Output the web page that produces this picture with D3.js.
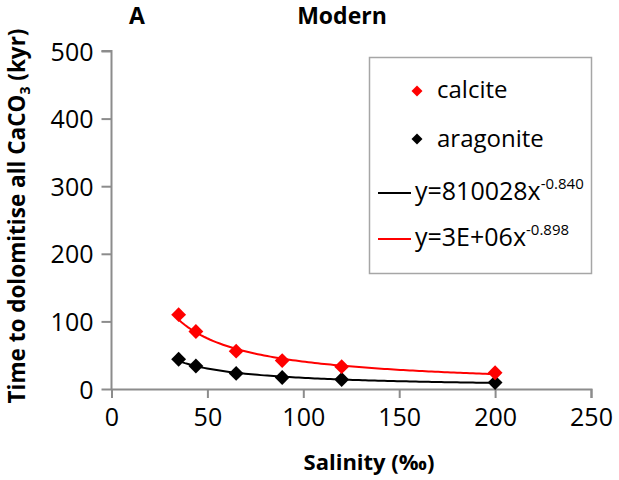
<!DOCTYPE html>
<html><head><meta charset="utf-8">
<script src="https://cdn.jsdelivr.net/npm/d3@7"></script>
<style>
body{margin:0;background:#fff;}
text{font-family:"Open Sans",sans-serif;}
</style></head>
<body><svg id="c" width="619" height="480"></svg>
<script>
const salinity = [35, 44, 65, 89, 120, 200];
const calcite = [110, 85, 56, 42, 33, 24];
const aragonite = [44, 34, 23, 17, 14, 9.5];
const xTicks = [0, 50, 100, 150, 200, 250];
const yTicks = [0, 100, 200, 300, 400, 500];
const seriesNames = ["calcite", "aragonite"];
const eqBlack = {base: "y=810028x", exp: "-0.840"};
const eqRed = {base: "y=3E+06x", exp: "-0.898"};

const svg = d3.select("#c");
const x = d3.scaleLinear().domain([0, 250]).range([111.5, 591]);
const y = d3.scaleLinear().domain([0, 500]).range([389, 51]);
const gray = "#8c8c8c";

// axes
const xAxis = svg.append("g").attr("transform", `translate(0,${y(0)})`)
  .call(d3.axisBottom(x).tickValues(xTicks).tickSize(9).tickPadding(8).tickFormat(d3.format("d")));
const yAxis = svg.append("g").attr("transform", `translate(${x(0)},0)`)
  .call(d3.axisLeft(y).tickValues(yTicks).tickSize(10).tickPadding(8).tickFormat(d3.format("d")));
[xAxis, yAxis].forEach(g => {
  g.select(".domain").attr("stroke", gray).attr("stroke-width", 2);
  g.selectAll(".tick line").attr("stroke", gray).attr("stroke-width", 2);
  g.selectAll(".tick text").attr("fill", "#000").style("font-size", "25px").style("font-family", "'Open Sans',sans-serif");
});
yAxis.select(".domain").attr("d", `M-10,${y(500)}H0V${y(0)}`);
yAxis.selectAll(".tick text").attr("dy", "0.36em");
xAxis.selectAll(".tick text").attr("dy", "0.78em");

// power fit from data (log-log regression)
function powerFit(xs, ys) {
  const lx = xs.map(Math.log), ly = ys.map(Math.log);
  const n = xs.length, mx = d3.mean(lx), my = d3.mean(ly);
  let sxy = 0, sxx = 0;
  for (let i = 0; i < n; i++) { sxy += (lx[i]-mx)*(ly[i]-my); sxx += (lx[i]-mx)**2; }
  const b = sxy / sxx, a = Math.exp(my - b*mx);
  return v => a * Math.pow(v, b);
}
const line = d3.line().x(d => x(d[0])).y(d => y(d[1]));
function trend(ys, color) {
  const f = powerFit(salinity, ys);
  const lo = d3.min(salinity), hi = d3.max(salinity);
  const pts = d3.range(0, 101).map(i => { const v = lo + (hi-lo)*i/100; return [v, f(v)]; });
  svg.append("path").attr("d", line(pts)).attr("fill", "none").attr("stroke", color).attr("stroke-width", 2);
}
trend(aragonite, "#000");
trend(calcite, "#ff0000");

const diamond = d3.symbol().type(d3.symbolSquare).size(110);
function markers(ys, color) {
  svg.append("g").selectAll("path").data(salinity.map((s, i) => [s, ys[i]])).join("path")
    .attr("d", diamond)
    .attr("transform", d => `translate(${x(d[0])},${y(d[1])}) rotate(45)`)
    .attr("fill", color);
}
markers(aragonite, "#000");
markers(calcite, "#ff0000");

// titles
svg.append("text").attr("x", 137).attr("y", 24).attr("text-anchor", "middle")
  .style("font-size", "23px").style("font-weight", "bold").text("A");
svg.append("text").attr("x", 342).attr("y", 24).attr("text-anchor", "middle")
  .style("font-size", "23px").style("font-weight", "bold").text("Modern");
svg.append("text").attr("x", 369).attr("y", 470).attr("text-anchor", "middle")
  .style("font-size", "22px").style("font-weight", "bold").text("Salinity (‰)");
const yl = svg.append("text").attr("transform", "translate(25,216) rotate(-90)").attr("text-anchor", "middle")
  .style("font-size", "22.5px").style("font-weight", "bold");
yl.append("tspan").text("Time to dolomitise all CaCO");
yl.append("tspan").attr("dy", 5).style("font-size", "14px").text("3");
yl.append("tspan").attr("dy", -5).text(" (kyr)");

// legend
const lg = svg.append("g");
lg.append("rect").attr("x", 369.5).attr("y", 57.5).attr("width", 222).attr("height", 216)
  .attr("fill", "#fff").attr("stroke", "#a6a6a6").attr("stroke-width", 1.5);
const lsym = d3.symbol().type(d3.symbolSquare).size(60);
[["#ff0000", 91, seriesNames[0], 98], ["#000", 139, seriesNames[1], 147]].forEach(([c, cy, t, by]) => {
  lg.append("path").attr("d", lsym).attr("transform", `translate(417,${cy}) rotate(45)`).attr("fill", c);
  lg.append("text").attr("x", 437).attr("y", by).style("font-size", "24px").text(t);
});
[["#000", 193, eqBlack, 200], ["#ff0000", 239, eqRed, 246]].forEach(([c, ly, eq, by]) => {
  lg.append("line").attr("x1", 378).attr("x2", 411).attr("y1", ly).attr("y2", ly).attr("stroke", c).attr("stroke-width", 2);
  const t = lg.append("text").attr("x", 415).attr("y", by).style("font-size", "25px");
  t.append("tspan").text(eq.base);
  t.append("tspan").attr("dy", -11).style("font-size", "15px").text(eq.exp);
});
</script></body></html>
